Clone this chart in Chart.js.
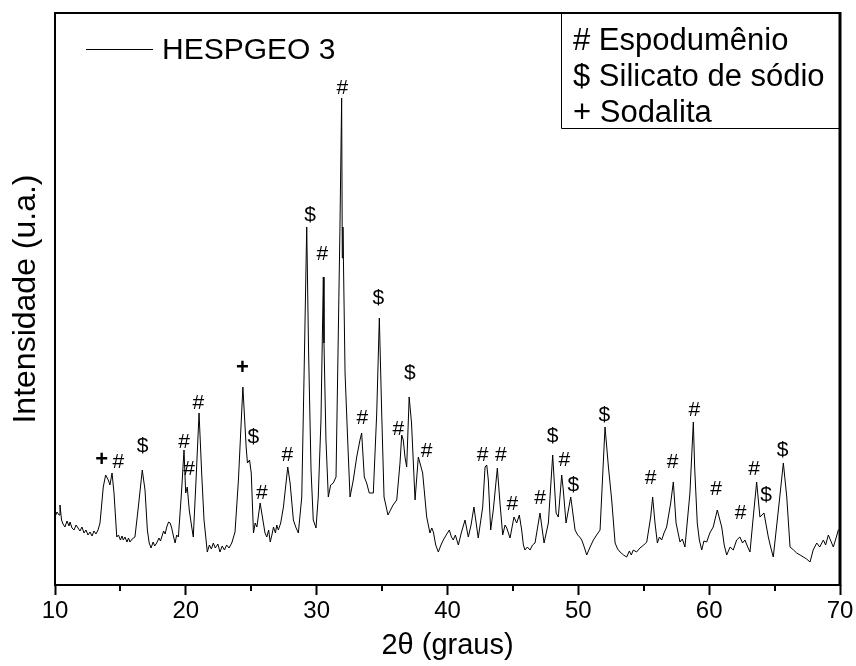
<!DOCTYPE html>
<html>
<head>
<meta charset="utf-8">
<title>HESPGEO 3</title>
<script src="https://cdn.jsdelivr.net/npm/chart.js@4.4.0/dist/chart.umd.min.js"></script>
<style>
  html, body { margin: 0; padding: 0; background: #fff; }
</style>
</head>
<body>
<canvas id="difratograma" width="856" height="666"></canvas>
<script>
// Difratograma lido ponto a ponto: [2θ (graus), intensidade (u.a.)]
const leitura = [
  [10.00, 68], [10.15, 73], [10.31, 70], [10.38, 80], [10.50, 65], [10.61, 61], [10.76, 58], [10.92, 64],
  [11.07, 59], [11.15, 63], [11.30, 57], [11.45, 55], [11.61, 60], [11.76, 57], [11.91, 54], [12.06, 58],
  [12.22, 52], [12.37, 55], [12.52, 50], [12.68, 53], [12.83, 49], [12.98, 54], [13.13, 51], [13.29, 55],
  [13.44, 62], [13.69, 98], [13.87, 110], [14.07, 105], [14.20, 100], [14.36, 112], [14.51, 92], [14.72, 48],
  [14.85, 50], [15.00, 45], [15.12, 49], [15.22, 45], [15.35, 48], [15.50, 43], [15.62, 47], [15.73, 43],
  [15.90, 46], [16.11, 48], [16.37, 78], [16.67, 115], [16.88, 95], [17.06, 55], [17.20, 42], [17.34, 37],
  [17.50, 43], [17.62, 39], [17.77, 42], [17.95, 47], [18.06, 44], [18.16, 48], [18.30, 54], [18.42, 51],
  [18.54, 58], [18.68, 63], [18.80, 62], [18.92, 57], [19.05, 49], [19.18, 42], [19.30, 50], [19.43, 48],
  [19.68, 95], [19.86, 135], [19.99, 92], [20.11, 98], [20.26, 75], [20.45, 58], [20.57, 48], [20.78, 105],
  [21.01, 172], [21.21, 112], [21.39, 65], [21.64, 33], [21.80, 40], [21.95, 36], [22.10, 42], [22.25, 37],
  [22.45, 41], [22.61, 33], [22.78, 39], [22.95, 35], [23.12, 40], [23.30, 37], [23.51, 42], [23.76, 53],
  [24.02, 105], [24.36, 198], [24.61, 138], [24.71, 122], [24.87, 125], [25.00, 112], [25.17, 52], [25.30, 62],
  [25.43, 58], [25.68, 82], [25.89, 65], [26.05, 52], [26.19, 48], [26.33, 55], [26.45, 43], [26.58, 50],
  [26.70, 58], [26.85, 52], [26.95, 60], [27.07, 55], [27.25, 62], [27.46, 78], [27.79, 118], [27.97, 102],
  [28.22, 65], [28.40, 58], [28.60, 52], [28.86, 88], [29.03, 205], [29.24, 358], [29.38, 235], [29.57, 115],
  [29.74, 65], [29.95, 57], [30.12, 88], [30.33, 165], [30.51, 308], [30.56, 242], [30.71, 145], [30.89, 88],
  [31.07, 100], [31.27, 102], [31.48, 108], [31.65, 248], [31.78, 358], [31.91, 487], [31.96, 327], [32.01, 358],
  [32.17, 212], [32.37, 145], [32.55, 88], [32.80, 105], [33.06, 128], [33.31, 145], [33.44, 152], [33.64, 108],
  [33.82, 102], [34.02, 92], [34.33, 92], [34.59, 172], [34.79, 267], [34.97, 172], [35.15, 88], [35.45, 70],
  [35.84, 80], [36.12, 85], [36.37, 122], [36.50, 150], [36.62, 145], [36.75, 128], [36.88, 118], [37.07, 188],
  [37.25, 162], [37.52, 85], [37.77, 128], [38.10, 112], [38.41, 68], [38.66, 52], [38.80, 57], [38.92, 53],
  [39.10, 40], [39.30, 33], [39.50, 40], [39.68, 45], [39.90, 50], [40.14, 55], [40.30, 48], [40.44, 45],
  [40.60, 50], [40.83, 40], [41.05, 52], [41.34, 65], [41.59, 48], [41.80, 60], [42.02, 78], [42.35, 47],
  [42.69, 78], [42.87, 118], [43.00, 120], [43.12, 105], [43.30, 55], [43.50, 75], [43.81, 117], [44.01, 82],
  [44.22, 50], [44.40, 60], [44.53, 57], [44.78, 47], [45.08, 68], [45.29, 62], [45.49, 70], [45.67, 55],
  [45.80, 40], [45.92, 35], [46.10, 38], [46.31, 35], [46.50, 40], [46.69, 42], [47.07, 72], [47.38, 42],
  [47.71, 62], [48.04, 130], [48.30, 72], [48.47, 68], [48.73, 110], [48.85, 95], [49.06, 62], [49.42, 88],
  [49.75, 55], [49.95, 50], [50.10, 48], [50.26, 45], [50.45, 38], [50.64, 30], [50.90, 38], [51.15, 45],
  [51.40, 50], [51.66, 55], [52.04, 158], [52.30, 118], [52.55, 85], [52.81, 42], [53.00, 36], [53.19, 33],
  [53.45, 30], [53.70, 28], [53.90, 34], [54.05, 30], [54.20, 35], [54.45, 33], [54.71, 37], [55.00, 40],
  [55.23, 43], [55.53, 68], [55.68, 88], [55.86, 62], [56.04, 42], [56.20, 48], [56.37, 45], [56.55, 52],
  [56.75, 58], [57.06, 82], [57.26, 103], [57.47, 62], [57.77, 43], [57.95, 46], [58.15, 38], [58.53, 92],
  [58.79, 163], [58.89, 118], [59.09, 62], [59.25, 45], [59.43, 35], [59.60, 44], [59.81, 43], [60.05, 52],
  [60.31, 58], [60.62, 75], [60.96, 58], [61.15, 40], [61.34, 30], [61.60, 38], [61.84, 35], [62.10, 45],
  [62.35, 48], [62.55, 42], [62.73, 45], [62.95, 38], [63.12, 33], [63.37, 68], [63.63, 103], [63.88, 68],
  [64.19, 72], [64.52, 48], [64.70, 38], [64.90, 28], [65.29, 75], [65.67, 122], [65.93, 88], [66.18, 38],
  [66.45, 35], [66.69, 32], [66.95, 30], [67.20, 28], [67.45, 26], [67.71, 23], [67.95, 35], [68.22, 42],
  [68.45, 38], [68.73, 45], [68.90, 40], [69.11, 50], [69.30, 44], [69.49, 38], [69.70, 47], [69.87, 55],
  [70.00, 55]
];

// Identificação das fases sobre os picos
const picoSimbolo = [
  '+', '#', '$', '#', '#', '#', '+', '$', '#', '#',
  '$', '#', '#', '#', '$', '#', '$', '#', '#', '#',
  '#', '#', '$', '#', '$', '$', '#', '#', '#', '#',
  '#', '#', '$', '$'
];
const picoTheta = [
  13.56, 14.84, 16.70, 19.86, 20.24, 20.95, 24.32, 25.16, 25.80, 27.76,
  29.49, 30.43, 31.96, 33.49, 34.71, 36.24, 37.13, 38.41, 42.69, 44.07,
  44.95, 47.07, 48.04, 48.93, 49.62, 51.99, 55.53, 57.21, 58.86, 60.52,
  62.41, 63.43, 64.35, 65.62
];
const picoAltura = [
  125, 123, 139, 143, 116, 182, 217, 148,  92, 130,
  370, 331, 497, 167, 287, 156, 212, 134, 130, 130,
   81,  87, 149, 125, 100, 170, 107, 123, 175,  96,
   72, 116,  90, 135
];

const fases = ['# Espodumênio', '$ Silicato de sódio', '+ Sodalita'];
const amostra = 'HESPGEO 3';
const xTicks = [10, 20, 30, 40, 50, 60, 70];
const xMinorTicks = [15, 25, 35, 45, 55, 65];

const fonte = "'Liberation Sans', Arial, sans-serif";

// Moldura do gráfico e marcas secundárias do eixo x
const moldura = {
  id: 'moldura',
  afterDraw(chart) {
    const {ctx, chartArea: a, scales: {x}} = chart;
    ctx.save();
    ctx.strokeStyle = '#000';
    ctx.lineWidth = 2;
    xMinorTicks.forEach(v => {
      const px = Math.round(x.getPixelForValue(v));
      ctx.beginPath();
      ctx.moveTo(px, a.bottom);
      ctx.lineTo(px, a.bottom + 6);
      ctx.stroke();
    });
    ctx.beginPath();
    ctx.moveTo(a.right, a.top);
    ctx.lineTo(a.left, a.top);
    ctx.lineTo(a.left, a.bottom);
    ctx.lineTo(a.right, a.bottom);
    ctx.stroke();
    ctx.lineWidth = 3;
    ctx.beginPath();
    ctx.moveTo(a.right, a.top - 1);
    ctx.lineTo(a.right, a.bottom + 1);
    ctx.stroke();
    ctx.restore();
  }
};

// Símbolos das fases em cima de cada pico
const simbolos = {
  id: 'simbolos',
  afterDatasetsDraw(chart) {
    const {ctx, scales: {x, y}} = chart;
    ctx.save();
    ctx.fillStyle = '#000';
    ctx.textAlign = 'center';
    ctx.textBaseline = 'middle';
    picoSimbolo.forEach((s, i) => {
      ctx.font = (s === '+' ? 'bold 22px ' : '21px ') + fonte;
      ctx.fillText(s, x.getPixelForValue(picoTheta[i]), y.getPixelForValue(picoAltura[i]));
    });
    ctx.restore();
  }
};

// Legenda da amostra (canto superior esquerdo) e quadro das fases (canto direito)
const legendas = {
  id: 'legendas',
  afterDraw(chart) {
    const {ctx, chartArea: a} = chart;
    ctx.save();
    ctx.strokeStyle = '#000';
    ctx.fillStyle = '#000';

    ctx.lineWidth = 1;
    ctx.beginPath();
    ctx.moveTo(a.left + 31, a.top + 36.5);
    ctx.lineTo(a.left + 98, a.top + 36.5);
    ctx.stroke();
    ctx.font = '30px ' + fonte;
    ctx.textBaseline = 'alphabetic';
    ctx.fillText(chart.data.datasets[0].label, a.left + 107, a.top + 46);

    const bx = 561.5, by = a.top, bh = 115;
    ctx.beginPath();
    ctx.moveTo(bx, by);
    ctx.lineTo(bx, by + bh + 0.5);
    ctx.lineTo(a.right, by + bh + 0.5);
    ctx.stroke();
    ctx.font = '31px ' + fonte;
    fases.forEach((t, i) => {
      ctx.fillText(t, 573, 50 + i * 36);
    });
    ctx.restore();
  }
};

new Chart(document.getElementById('difratograma'), {
  type: 'line',
  data: {
    datasets: [{
      label: amostra,
      data: leitura.map(([t, v]) => ({x: t, y: v})),
      borderColor: '#000',
      borderWidth: 1,
      pointRadius: 0,
      tension: 0,
      fill: false
    }]
  },
  options: {
    responsive: false,
    animation: false,
    layout: { padding: { top: 13, right: 16, left: 0, bottom: 0 } },
    plugins: {
      legend: { display: false },
      tooltip: { enabled: false }
    },
    scales: {
      x: {
        type: 'linear',
        min: 10,
        max: 70,
        afterBuildTicks: s => { s.ticks = xTicks.map(v => ({value: v})); },
        afterFit: s => { s.height = 81; s.paddingLeft = 0; s.paddingRight = 0; },
        ticks: {
          color: '#000',
          font: { family: fonte, size: 24 },
          padding: 2,
          maxRotation: 0,
          autoSkip: false
        },
        grid: {
          drawOnChartArea: false,
          drawTicks: true,
          tickLength: 10,
          tickWidth: 2,
          tickColor: '#000'
        },
        border: { display: false },
        title: {
          display: true,
          text: '2θ (graus)',
          color: '#000',
          font: { family: fonte, size: 29 },
          padding: { top: 0, bottom: 3 }
        }
      },
      y: {
        min: 0,
        max: 572,
        afterFit: s => { s.width = 55; },
        ticks: { display: false },
        grid: { display: false },
        border: { display: false },
        title: {
          display: true,
          text: 'Intensidade (u.a.)',
          color: '#000',
          font: { family: fonte, size: 32 },
          padding: { top: 7, bottom: 0 }
        }
      }
    }
  },
  plugins: [moldura, simbolos, legendas]
});
</script>
</body>
</html>
